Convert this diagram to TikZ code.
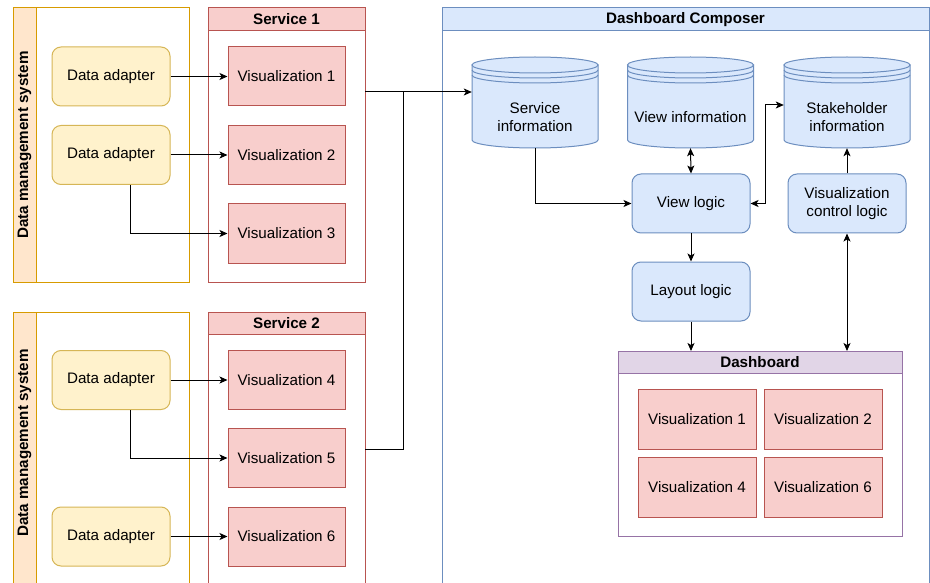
\documentclass[tikz,border=0pt]{standalone}
\usepackage{fontspec}
\setmainfont{Liberation Sans}
\usetikzlibrary{arrows.meta}

\definecolor{orgStroke}{HTML}{D79B00}
\definecolor{orgFill}{HTML}{FFE6CC}
\definecolor{ylwStroke}{HTML}{D6B656}
\definecolor{ylwFill}{HTML}{FFF2CC}
\definecolor{redStroke}{HTML}{B85450}
\definecolor{redFill}{HTML}{F8CECC}
\definecolor{bluStroke}{HTML}{6C8EBF}
\definecolor{bluFill}{HTML}{DAE8FC}
\definecolor{prpStroke}{HTML}{9673A6}
\definecolor{prpFill}{HTML}{E1D5E7}

\newcommand\lblfont{\fontsize{15.2}{18}\selectfont}

% data store: name, centre x, label
\newcommand\dstore[3]{%
  \node[minimum width=126pt, minimum height=91pt, inner sep=0pt] (#1) at (#2,102.5) {};
  \filldraw[draw=bluStroke, fill=bluFill, line width=1pt]
    (#2-63,65) -- (#2-63,140) arc[start angle=180, end angle=0, x radius=63, y radius=8]
    -- (#2+63,65) -- cycle;
  \filldraw[draw=bluStroke, fill=bluFill, line width=1pt]
    (#2,65) ellipse [x radius=63, y radius=8];
  \draw[bluStroke, line width=1pt]
    (#2-63,70) arc[start angle=180, end angle=0, x radius=63, y radius=8];
  \draw[bluStroke, line width=1pt]
    (#2-63,75) arc[start angle=180, end angle=0, x radius=63, y radius=8];
  \node[align=center, font=\lblfont] at (#2,117) {#3};
}

\begin{document}
\begin{tikzpicture}[x=1pt, y=-1pt,
  txt/.style={font=\lblfont, inner sep=0pt},
  vis/.style={txt, draw=redStroke, fill=redFill, line width=1pt,
    minimum width=117pt, minimum height=59pt},
  adapter/.style={txt, draw=ylwStroke, fill=ylwFill, line width=1pt,
    rounded corners=9pt, minimum width=118pt, minimum height=59pt},
  logic/.style={txt, draw=bluStroke, fill=bluFill, line width=1pt,
    rounded corners=9pt, minimum width=118pt, minimum height=59pt, align=center},
  title/.style={font=\lblfont\bfseries, inner sep=0pt},
  arr/.style={-{Stealth[length=8pt, width=7pt, inset=2pt]}, line width=1pt},
  darr/.style={{Stealth[length=8pt, width=7pt, inset=2pt]}-{Stealth[length=8pt, width=7pt, inset=2pt]}, line width=1pt}]

\clip (0,0) rectangle (930,583);
\fill[white] (0,0) rectangle (930,583);

% Data management systems
\filldraw[draw=orgStroke, fill=white, line width=1pt] (13,8) rectangle (189,282);
\filldraw[draw=orgStroke, fill=orgFill, line width=1pt] (13,8) rectangle (36,282);
\node[title, rotate=90] at (24.5,145) {Data management system};

\draw[orgStroke, line width=1pt] (13,600) -- (13,312) -- (189,312) -- (189,600);
\filldraw[draw=orgStroke, fill=orgFill, line width=1pt] (13,600) -- (13,312) -- (36,312) -- (36,600);
\node[title, rotate=90] at (24.5,443) {Data management system};

% Services
\draw[redStroke, line width=1pt] (208,8) rectangle (365,282);
\filldraw[draw=redStroke, fill=redFill, line width=1pt] (208,8) rectangle (365,31);
\node[title] at (286.5,19.5) {Service 1};

\draw[redStroke, line width=1pt] (208,600) -- (208,312) -- (365,312) -- (365,600);
\filldraw[draw=redStroke, fill=redFill, line width=1pt] (208,312) rectangle (365,334);
\node[title] at (286.5,323) {Service 2};

% Dashboard composer
\draw[bluStroke, line width=1pt] (442,600) -- (442,8) -- (929,8) -- (929,600);
\filldraw[draw=bluStroke, fill=bluFill, line width=1pt] (442,8) rectangle (929,31);
\node[title] at (685.5,19.5) {Dashboard Composer};

% Adapters and visualizations
\node[adapter] (da1) at (111,76.5) {Data adapter};
\node[adapter] (da2) at (111,155) {Data adapter};
\node[adapter] (da3) at (111,380) {Data adapter};
\node[adapter] (da4) at (111,536.5) {Data adapter};

\node[vis] (v1) at (286.5,76.5) {Visualization 1};
\node[vis] (v2) at (286.5,155) {Visualization 2};
\node[vis] (v3) at (286.5,233.5) {Visualization 3};
\node[vis] (v4) at (286.5,380) {Visualization 4};
\node[vis] (v5) at (286.5,458) {Visualization 5};
\node[vis] (v6) at (286.5,536.5) {Visualization 6};

% Stores
\dstore{si}{535}{Service\\information}
\dstore{vi}{690.5}{View information}
\dstore{sh}{847}{Stakeholder\\information}

% Logic blocks
\node[logic] (vl) at (691,203.5) {View logic};
\node[logic] (vcl) at (847,203.5) {Visualization\\control logic};
\node[logic] (ll) at (691,291.5) {Layout logic};

% Dashboard
\node[draw=prpStroke, line width=1pt, fill=white, minimum width=284pt, minimum height=185pt,
  inner sep=0pt, anchor=north west] (dash) at (618,351) {};
\filldraw[draw=prpStroke, fill=prpFill, line width=1pt] (618,351) rectangle (902,373);
\node[title] at (760,362) {Dashboard};
\node[vis, minimum width=118pt, minimum height=60pt] (d1) at (697,419) {Visualization 1};
\node[vis, minimum width=118pt, minimum height=60pt] (d2) at (823,419) {Visualization 2};
\node[vis, minimum width=118pt, minimum height=60pt] (d4) at (697,487.5) {Visualization 4};
\node[vis, minimum width=118pt, minimum height=60pt] (d6) at (823,487.5) {Visualization 6};

% Connectors
\draw[arr] (da1) -- (v1);
\draw[arr] (da2) -- (v2);
\draw[arr] ([xshift=19pt]da2.south) |- (v3);
\draw[arr] (da3) -- (v4);
\draw[arr] ([xshift=19pt]da3.south) |- (v5);
\draw[arr] (da4) -- (v6);

\coordinate (s1out) at (365,92);
\coordinate (s2out) at (365,449);
\coordinate (join) at (403,92);
\draw[arr] (s1out) -- (s1out -| si.west);
\draw[line width=1pt] (s2out) -| (join);

\draw[arr] (si.south) |- (vl.west);
\draw[darr] (vi.south) -- (vl.north);
\draw[darr] (vl.east) -- ++(15,0) |- ([yshift=-2.5pt]sh.west);
\draw[arr] (vcl.north) -- (sh.south);
\draw[darr] (vcl.south) -- (vcl.south |- dash.north);
\draw[arr] (vl.south) -- (ll.north);
\draw[arr] (ll.south) -- (ll.south |- dash.north);
\end{tikzpicture}
\end{document}
